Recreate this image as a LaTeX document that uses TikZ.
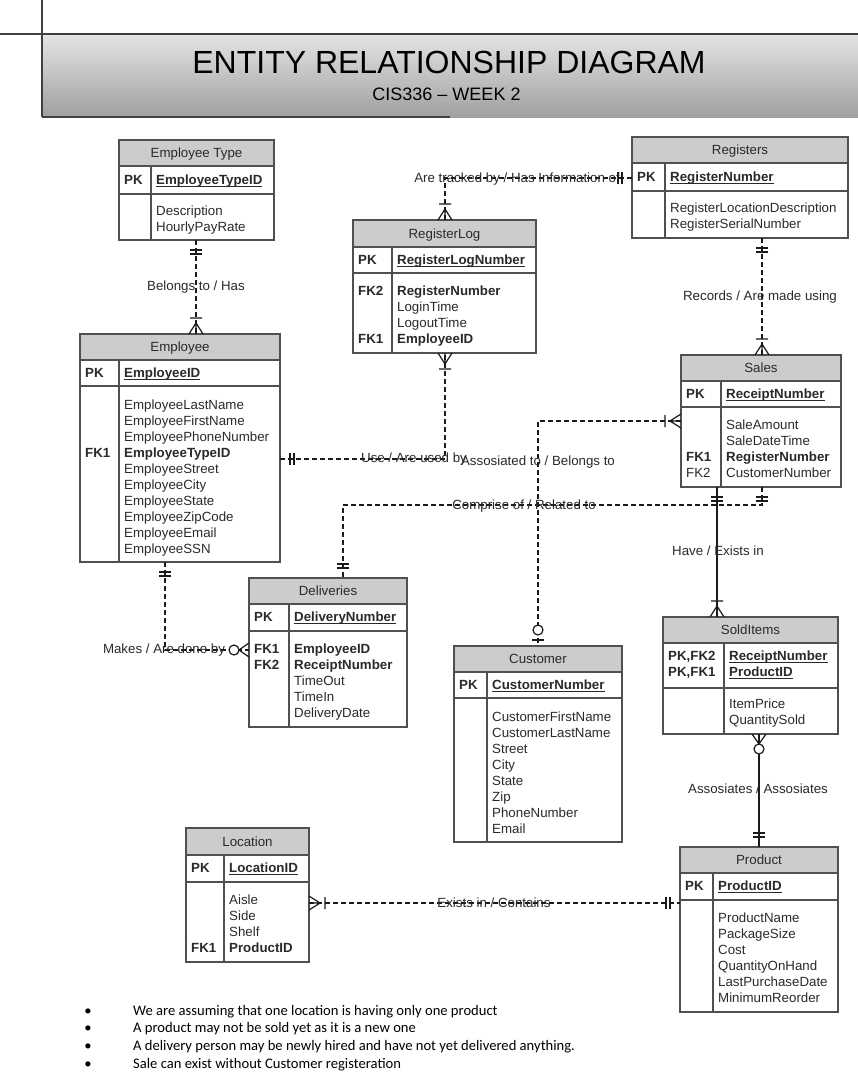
\documentclass[tikz,border=0pt]{standalone}
\usepackage{fontspec}
\setmainfont{Liberation Sans}
\newfontfamily\calibri{Carlito}
\usetikzlibrary{calc}
\definecolor{bdc}{HTML}{505050}
\definecolor{hdc}{HTML}{CCCCCC}
\definecolor{txc}{HTML}{2A2A2A}
\definecolor{lnc}{HTML}{1A1A1A}
\definecolor{hdtop}{HTML}{E4E4E4}
\definecolor{hdbot}{HTML}{A0A0A0}
\newcommand\ulb[1]{\setbox0\hbox{\textbf{#1}}\rlap{\rule[-2pt]{\wd0}{0.9pt}}\box0}
\tikzset{
 bd/.style={draw=bdc, line width=1.1pt},
 entbox/.style={draw=bdc, line width=1.1pt, inner sep=0pt, outer sep=0pt, rectangle},
 ttl/.style={font=\fontsize{13.3}{16}\selectfont, text=txc, inner sep=0pt, anchor=base},
 att/.style={font=\fontsize{13.3}{16}\selectfont, text=txc, anchor=base west, inner sep=0pt},
 rel/.style={draw=lnc, line width=1.2pt, dash pattern=on 5pt off 3pt},
 srel/.style={draw=lnc, line width=1.4pt},
 lbl/.style={font=\fontsize{13.3}{16}\selectfont, text=txc, inner sep=0pt, anchor=base},
 blt/.style={font=\calibri\fontsize{14.6}{17}\selectfont, text=black, inner sep=0pt, anchor=base west},
 mk/.style={draw=lnc, line width=1.2pt, solid},
 mo/.pic={\draw[mk] (10,-6)--(10,6) (14,-6)--(14,6);},
 om/.pic={\draw[mk] (0,-7)--(11,0)--(0,7) (0,0)--(11,0) (16,-6)--(16,6);},
 zo/.pic={\draw[mk] (6,-6)--(6,6); \draw[mk,fill=white] (16,0) circle (5pt);},
 zm/.pic={\draw[mk] (0,-7)--(10,0)--(0,7); \draw[mk,fill=white] (15,0) circle (5pt);},
}
% #1 name, #2 x1, #3 x2, #4 divider, #5 top, #6 header bottom, #7 pk bottom, #8 bottom, #9 title
\newcommand\entity[9]{%
 \fill[hdc] (#2,#5) rectangle (#3,#6);
 \node[entbox, anchor=north west, minimum width={(#3)-(#2)}, minimum height={(#8)-(#5)}] (#1) at (#2,#5) {};
 \draw[bd] (#2,#6)--(#3,#6) (#2,#7)--(#3,#7) (#4,#6)--(#4,#8);
 \node[ttl] at ({(#2+#3)/2},{(#5+#6)/2+4.7}) {#9};
}
\newcommand\rowsat[3]{\foreach \t [count=\i from 0] in {#3} {\node[att] at (#1,{#2+4.7+16*\i}) {\t};}}
\begin{document}
\begin{tikzpicture}[x=1pt,y=-1pt]
\useasboundingbox (0,0) rectangle (858,1074);
\fill[white] (0,0) rectangle (858,1074);
% banner
\shade[top color=hdtop, bottom color=hdbot] (42,34) rectangle (858,117);
\draw[line width=1.2pt, draw=black!75] (0,34) -- (858,34);
\draw[line width=1.2pt, draw=black!75] (42,0) -- (42,117);
\draw[line width=1.2pt, draw=black!75] (42,117) -- (450,117);
\node[font=\fontsize{32}{36}\selectfont, anchor=base, inner sep=0pt] (title) at (449,73.5) {ENTITY RELATIONSHIP DIAGRAM};
\node[font=\fontsize{18}{20}\selectfont, anchor=base, inner sep=0pt] (subtitle) at (446.5,100.4) {CIS336 -- WEEK 2};

% Employee Type
\entity{etype}{119}{274}{151}{140}{166}{194}{240}{Employee Type}
\node[att] at (124,184.7) {\textbf{PK}};
\node[att] at (156,184.7) {\ulb{EmployeeTypeID}};
\rowsat{156}{211}{Description,HourlyPayRate}

% RegisterLog
\entity{rlog}{353}{536}{392}{220}{247}{273}{353}{RegisterLog}
\node[att] at (358,264.7) {\textbf{PK}};
\node[att] at (397,264.7) {\ulb{RegisterLogNumber}};
\node[att] at (358,295.7) {\textbf{FK2}};
\node[att] at (358,343.7) {\textbf{FK1}};
\rowsat{397}{291}{\textbf{RegisterNumber},LoginTime,LogoutTime,\textbf{EmployeeID}}

% Registers
\entity{regs}{632}{848}{665}{137}{163}{191}{238}{Registers}
\node[att] at (637,181.7) {\textbf{PK}};
\node[att] at (670,181.7) {\ulb{RegisterNumber}};
\rowsat{670}{208}{RegisterLocationDescription,RegisterSerialNumber}

% Employee
\entity{emp}{80}{280}{119}{334}{360}{386}{562}{Employee}
\node[att] at (85,377.7) {\textbf{PK}};
\node[att] at (124,377.7) {\ulb{EmployeeID}};
\node[att] at (85,457.7) {\textbf{FK1}};
\rowsat{124}{405}{EmployeeLastName,EmployeeFirstName,EmployeePhoneNumber,\textbf{EmployeeTypeID},EmployeeStreet,EmployeeCity,EmployeeState,EmployeeZipCode,EmployeeEmail,EmployeeSSN}

% Sales
\entity{sales}{681}{841}{721}{355}{381}{407}{487}{Sales}
\node[att] at (686,398.7) {\textbf{PK}};
\node[att] at (726,398.7) {\ulb{ReceiptNumber}};
\node[att] at (686,461.7) {\textbf{FK1}};
\node[att] at (686,477.7) {FK2};
\rowsat{726}{425}{SaleAmount,SaleDateTime,\textbf{RegisterNumber},CustomerNumber}

% Deliveries
\entity{deliv}{249}{407}{289}{578}{604}{631}{727}{Deliveries}
\node[att] at (254,621.7) {\textbf{PK}};
\node[att] at (294,621.7) {\ulb{DeliveryNumber}};
\node[att] at (254,653.7) {\textbf{FK1}};
\node[att] at (254,669.7) {\textbf{FK2}};
\rowsat{294}{649}{\textbf{EmployeeID},\textbf{ReceiptNumber},TimeOut,TimeIn,DeliveryDate}

% Customer
\entity{cust}{454}{622}{487}{646}{672}{698}{842}{Customer}
\node[att] at (459,689.7) {\textbf{PK}};
\node[att] at (492,689.7) {\ulb{CustomerNumber}};
\rowsat{492}{717}{CustomerFirstName,CustomerLastName,Street,City,State,Zip,PhoneNumber,Email}

% SoldItems
\entity{sold}{663}{838}{724}{617}{643}{688}{734}{SoldItems}
\node[att] at (668,660.7) {\textbf{PK,FK2}};
\node[att] at (668,676.7) {\textbf{PK,FK1}};
\node[att] at (729,660.7) {\ulb{ReceiptNumber}};
\node[att] at (729,676.7) {\ulb{ProductID}};
\rowsat{729}{704}{ItemPrice,QuantitySold}

% Location
\entity{loc}{186}{309}{224}{828}{855}{882}{962}{Location}
\node[att] at (191,872.7) {\textbf{PK}};
\node[att] at (229,872.7) {\ulb{LocationID}};
\node[att] at (191,952.7) {\textbf{FK1}};
\rowsat{229}{900}{Aisle,Side,Shelf,\textbf{ProductID}}

% Product
\entity{prod}{680}{838}{713}{847}{873}{900}{1012}{Product}
\node[att] at (685,890.7) {\textbf{PK}};
\node[att] at (718,890.7) {\ulb{ProductID}};
\rowsat{718}{918}{ProductName,PackageSize,Cost,QuantityOnHand,LastPurchaseDate,MinimumReorder}

% ---- relationships ----
% Employee Type - Employee
\draw[rel] (etype.south -| 196,0) -- (emp.north -| 196,0);
\pic[rotate=-90] at (etype.south -| 196,0) {mo};
\pic[rotate=90] at (emp.north -| 196,0) {om};
\node[lbl] (l1) at (196,290.7) {Belongs to / Has};

% RegisterLog - Registers
\coordinate (k2) at (445,178);
\draw[rel] (rlog.north -| k2) -- (k2) -- (regs.west |- k2);
\pic[rotate=90] at (rlog.north -| k2) {om};
\pic[rotate=180] at (regs.west |- k2) {mo};
\node[lbl] (l2) at (517,182.7) {Are tracked by / Has Information of};

% Registers - Sales
\draw[rel] (regs.south -| 762,0) -- (sales.north -| 762,0);
\pic[rotate=-90] at (regs.south -| 762,0) {mo};
\pic[rotate=90] at (sales.north -| 762,0) {om};
\node[lbl] (l3) at (760,300.7) {Records / Are made using};

% Employee - RegisterLog
\coordinate (k4) at (445,459);
\draw[rel] (emp.east |- k4) -- (k4) -- (rlog.south -| k4);
\pic at (emp.east |- k4) {mo};
\pic[rotate=-90] at (rlog.south -| k4) {om};
\node[lbl] (l4) at (414,462.7) {Use / Are used by};

% Sales - Customer
\coordinate (k5) at (538,421);
\draw[rel] (sales.west |- k5) -- (k5) -- (cust.north -| k5);
\pic[rotate=180] at (sales.west |- k5) {om};
\pic[rotate=90] at (cust.north -| k5) {zo};
\node[lbl] (l5) at (538,465.7) {Assosiated to / Belongs to};

% Sales - Deliveries
\coordinate (k6a) at (762,505);
\coordinate (k6b) at (343,505);
\draw[rel] (sales.south -| k6a) -- (k6a) -- (k6b) -- (deliv.north -| k6b);
\pic[rotate=-90] at (sales.south -| k6a) {mo};
\pic[rotate=90] at (deliv.north -| k6b) {mo};
\node[lbl] (l6) at (524,509.7) {Comprise of / Related to};

% Sales - SoldItems
\draw[srel] (sales.south -| 717,0) -- (sold.north -| 717,0);
\pic[rotate=-90] at (sales.south -| 717,0) {mo};
\pic[rotate=90] at (sold.north -| 717,0) {om};
\node[lbl] (l7) at (718,555.7) {Have / Exists in};

% SoldItems - Product
\draw[srel] (sold.south -| 759,0) -- (prod.north -| 759,0);
\pic[rotate=-90] at (sold.south -| 759,0) {zm};
\pic[rotate=90] at (prod.north -| 759,0) {mo};
\node[lbl] (l8) at (758,793.7) {Assosiates / Assosiates};

% Employee - Deliveries
\coordinate (k9) at (165,650);
\draw[rel] (emp.south -| k9) -- (k9) -- (deliv.west |- k9);
\pic[rotate=-90] at (emp.south -| k9) {mo};
\pic[rotate=180] at (deliv.west |- k9) {zm};
\node[lbl] (l9) at (164,653.7) {Makes / Are done by};

% Location - Product
\coordinate (k10) at (500,903);
\draw[rel] (loc.east |- k10) -- (prod.west |- k10);
\pic at (loc.east |- k10) {om};
\pic[rotate=180] at (prod.west |- k10) {mo};
\node[lbl] (l10) at (494,907.7) {Exists in / Contains};

% ---- notes ----
\foreach \yy/\tt in {1011/We are assuming that one location is having only one product,
 1028/A product may not be sold yet as it is a new one,
 1046/A delivery person may be newly hired and have not yet delivered anything.,
 1064/Sale can exist without Customer registeration}{
 \node[blt, anchor=base] at (88,\yy+4.8) {•};
 \node[blt] at (133,\yy+4.8) {\tt};
}
\end{tikzpicture}
\end{document}
